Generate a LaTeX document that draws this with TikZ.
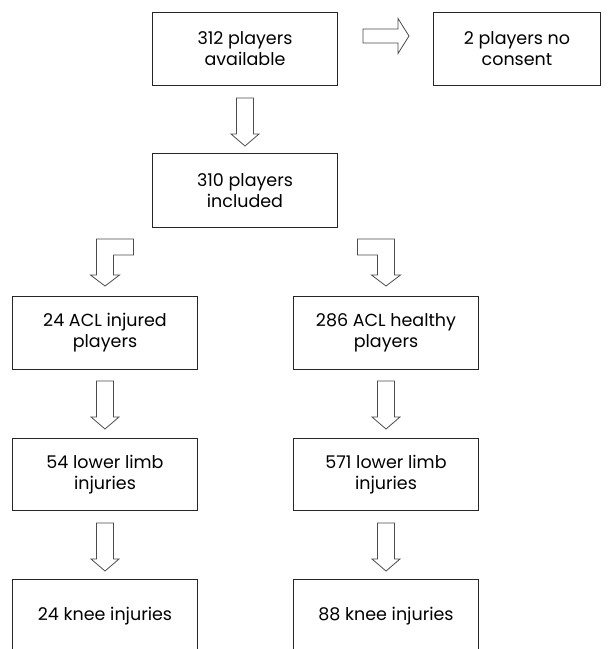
\documentclass[tikz,border=0pt]{standalone}
\usepackage{fontspec}
\setmainfont{Poppins}
\usetikzlibrary{calc}
\begin{document}
\begin{tikzpicture}[x=1pt,y=-1pt,
  box/.style={draw=black!85, line width=1pt, minimum width=185pt, minimum height=73pt,
    align=center, inner sep=0pt, anchor=north west, font=\fontsize{17.5}{21}\selectfont},
  blk/.style={draw=black!70, line width=0.8pt, fill=white, line join=miter},
  pics/downarr/.style={code={\draw[blk] (-8.5,0) -- (8.5,0) -- (8.5,36) -- (14,36) -- (0,48) -- (-14,36) -- (-8.5,36) -- cycle;}},
  pics/rightarr/.style={code={\draw[blk] (0,-7) -- (35,-7) -- (35,-17.5) -- (46,0) -- (35,17.5) -- (35,7) -- (0,7) -- cycle;}},
  pics/bentleft/.style={code={\draw[blk] (28.5,-47) -- (-8.5,-47) -- (-8.5,-11) -- (-14.5,-11) -- (0,0) -- (14.5,-11) -- (8.5,-11) -- (8.5,-31) -- (28.5,-31) -- cycle;}},
  pics/bentright/.style={code={\draw[blk] (-28.5,-47) -- (8.5,-47) -- (8.5,-11) -- (14.5,-11) -- (0,0) -- (-14.5,-11) -- (-8.5,-11) -- (-8.5,-31) -- (-28.5,-31) -- cycle;}}
]
\clip (0,0) rectangle (615,649);
\fill[white] (0,0) rectangle (615,649);

\node[box] (avail) at (152,12) {312 players\\available};
\node[box, minimum width=167pt] (nocons) at (433,12) {2 players no\\consent};
\node[box, minimum height=74pt] (incl) at (152,153) {310 players\\included};
\node[box] (acli) at (12,296) {24 ACL injured\\players};
\node[box] (aclh) at (293,296) {286 ACL healthy\\players};
\node[box, minimum height=72pt] (lli) at (12,438) {54 lower limb\\injuries};
\node[box, minimum height=72pt] (llh) at (293,438) {571 lower limb\\injuries};
\node[box] (kni) at (12,579) {24 knee injuries};
\node[box] (knh) at (293,579) {88 knee injuries};

\pic at ($(avail.north east)+(25,24)$) {rightarr};
\pic at ($(avail.south)+(0,12)$) {downarr};
\pic at ($(acli.north)+(0,-10)$) {bentleft};
\pic at ($(aclh.north)+(0,-10)$) {bentright};
\pic at ($(acli.south)+(0,11)$) {downarr};
\pic at ($(aclh.south)+(0,11)$) {downarr};
\pic at ($(lli.south)+(0,12)$) {downarr};
\pic at ($(llh.south)+(0,12)$) {downarr};
\end{tikzpicture}
\end{document}
